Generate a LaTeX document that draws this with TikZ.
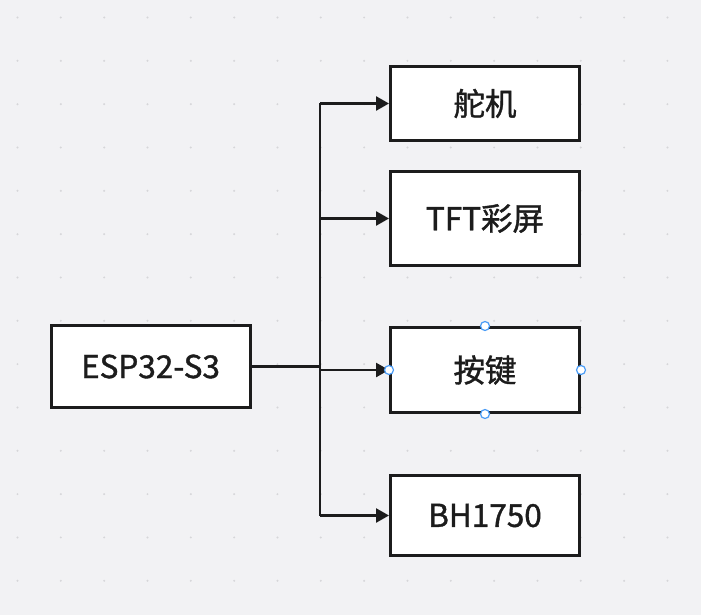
\documentclass[tikz,border=0pt]{standalone}
\usepackage{fontspec}
\usepackage{tikz}
\usetikzlibrary{arrows.meta,positioning,calc}
\newfontfamily\cjk[FakeBold=1.2]{Noto Sans CJK SC}
\definecolor{bgpaper}{HTML}{F2F2F4}
\definecolor{griddot}{HTML}{D6D6D9}
\definecolor{inkdark}{HTML}{1C1C1C}
\definecolor{selblue}{HTML}{4A9CF6}

\begin{document}
\begin{tikzpicture}[x=1pt,y=-1pt,
  font=\cjk\fontsize{31.5}{36}\selectfont,
  blk/.style={draw=inkdark,line width=3pt,fill=white,text=inkdark,inner sep=0pt},
  wire/.style={draw=inkdark,line width=2.5pt},
  arr/.style={wire,-{Triangle[length=13pt,width=14pt]}},
  handle/.style={circle,draw=selblue,line width=1.2pt,fill=white,inner sep=0pt,minimum size=9pt}]
  % canvas and dotted grid
  \fill[bgpaper] (0,0) rectangle (701,615);
  \useasboundingbox (0,0) rectangle (701,615);
  \foreach \i in {0,...,15} {
    \foreach \j in {0,...,13} {
      \fill[griddot] (17.5+43.33*\i,17.5+43.33*\j) circle (1.1pt);
    }
  }
  % blocks
  \node[blk,minimum width=199pt,minimum height=82pt] (esp) at (150.5,366.5) {ESP32-S3};
  \node[blk,minimum width=189pt,minimum height=74pt] (servo) at (485,103.5) {舵机};
  \node[blk,minimum width=189pt,minimum height=94pt] (tft) at (485,218.5) {TFT彩屏};
  \node[blk,minimum width=189pt,minimum height=85pt] (key) at (485,370) {按键};
  \node[blk,minimum width=189pt,minimum height=80pt] (bh) at (485,515.5) {BH1750};
  % bus
  \coordinate (bus) at (320,366.5);
  \draw[wire] (esp.east) -- (bus);
  \draw[wire] (bus |- servo.west) -- (bus |- bh.west);
  \draw[arr] (bus |- servo.west) -- (servo.west);
  \draw[arr] (bus |- tft.west) -- (tft.west);
  \draw[arr] (bus |- key.west) -- (key.west);
  \draw[arr] (bus |- bh.west) -- (bh.west);
  % selection handles
  \foreach \a in {west,east,north,south}
    \node[handle] (key-\a) at (key.\a) {};
\end{tikzpicture}
\end{document}
